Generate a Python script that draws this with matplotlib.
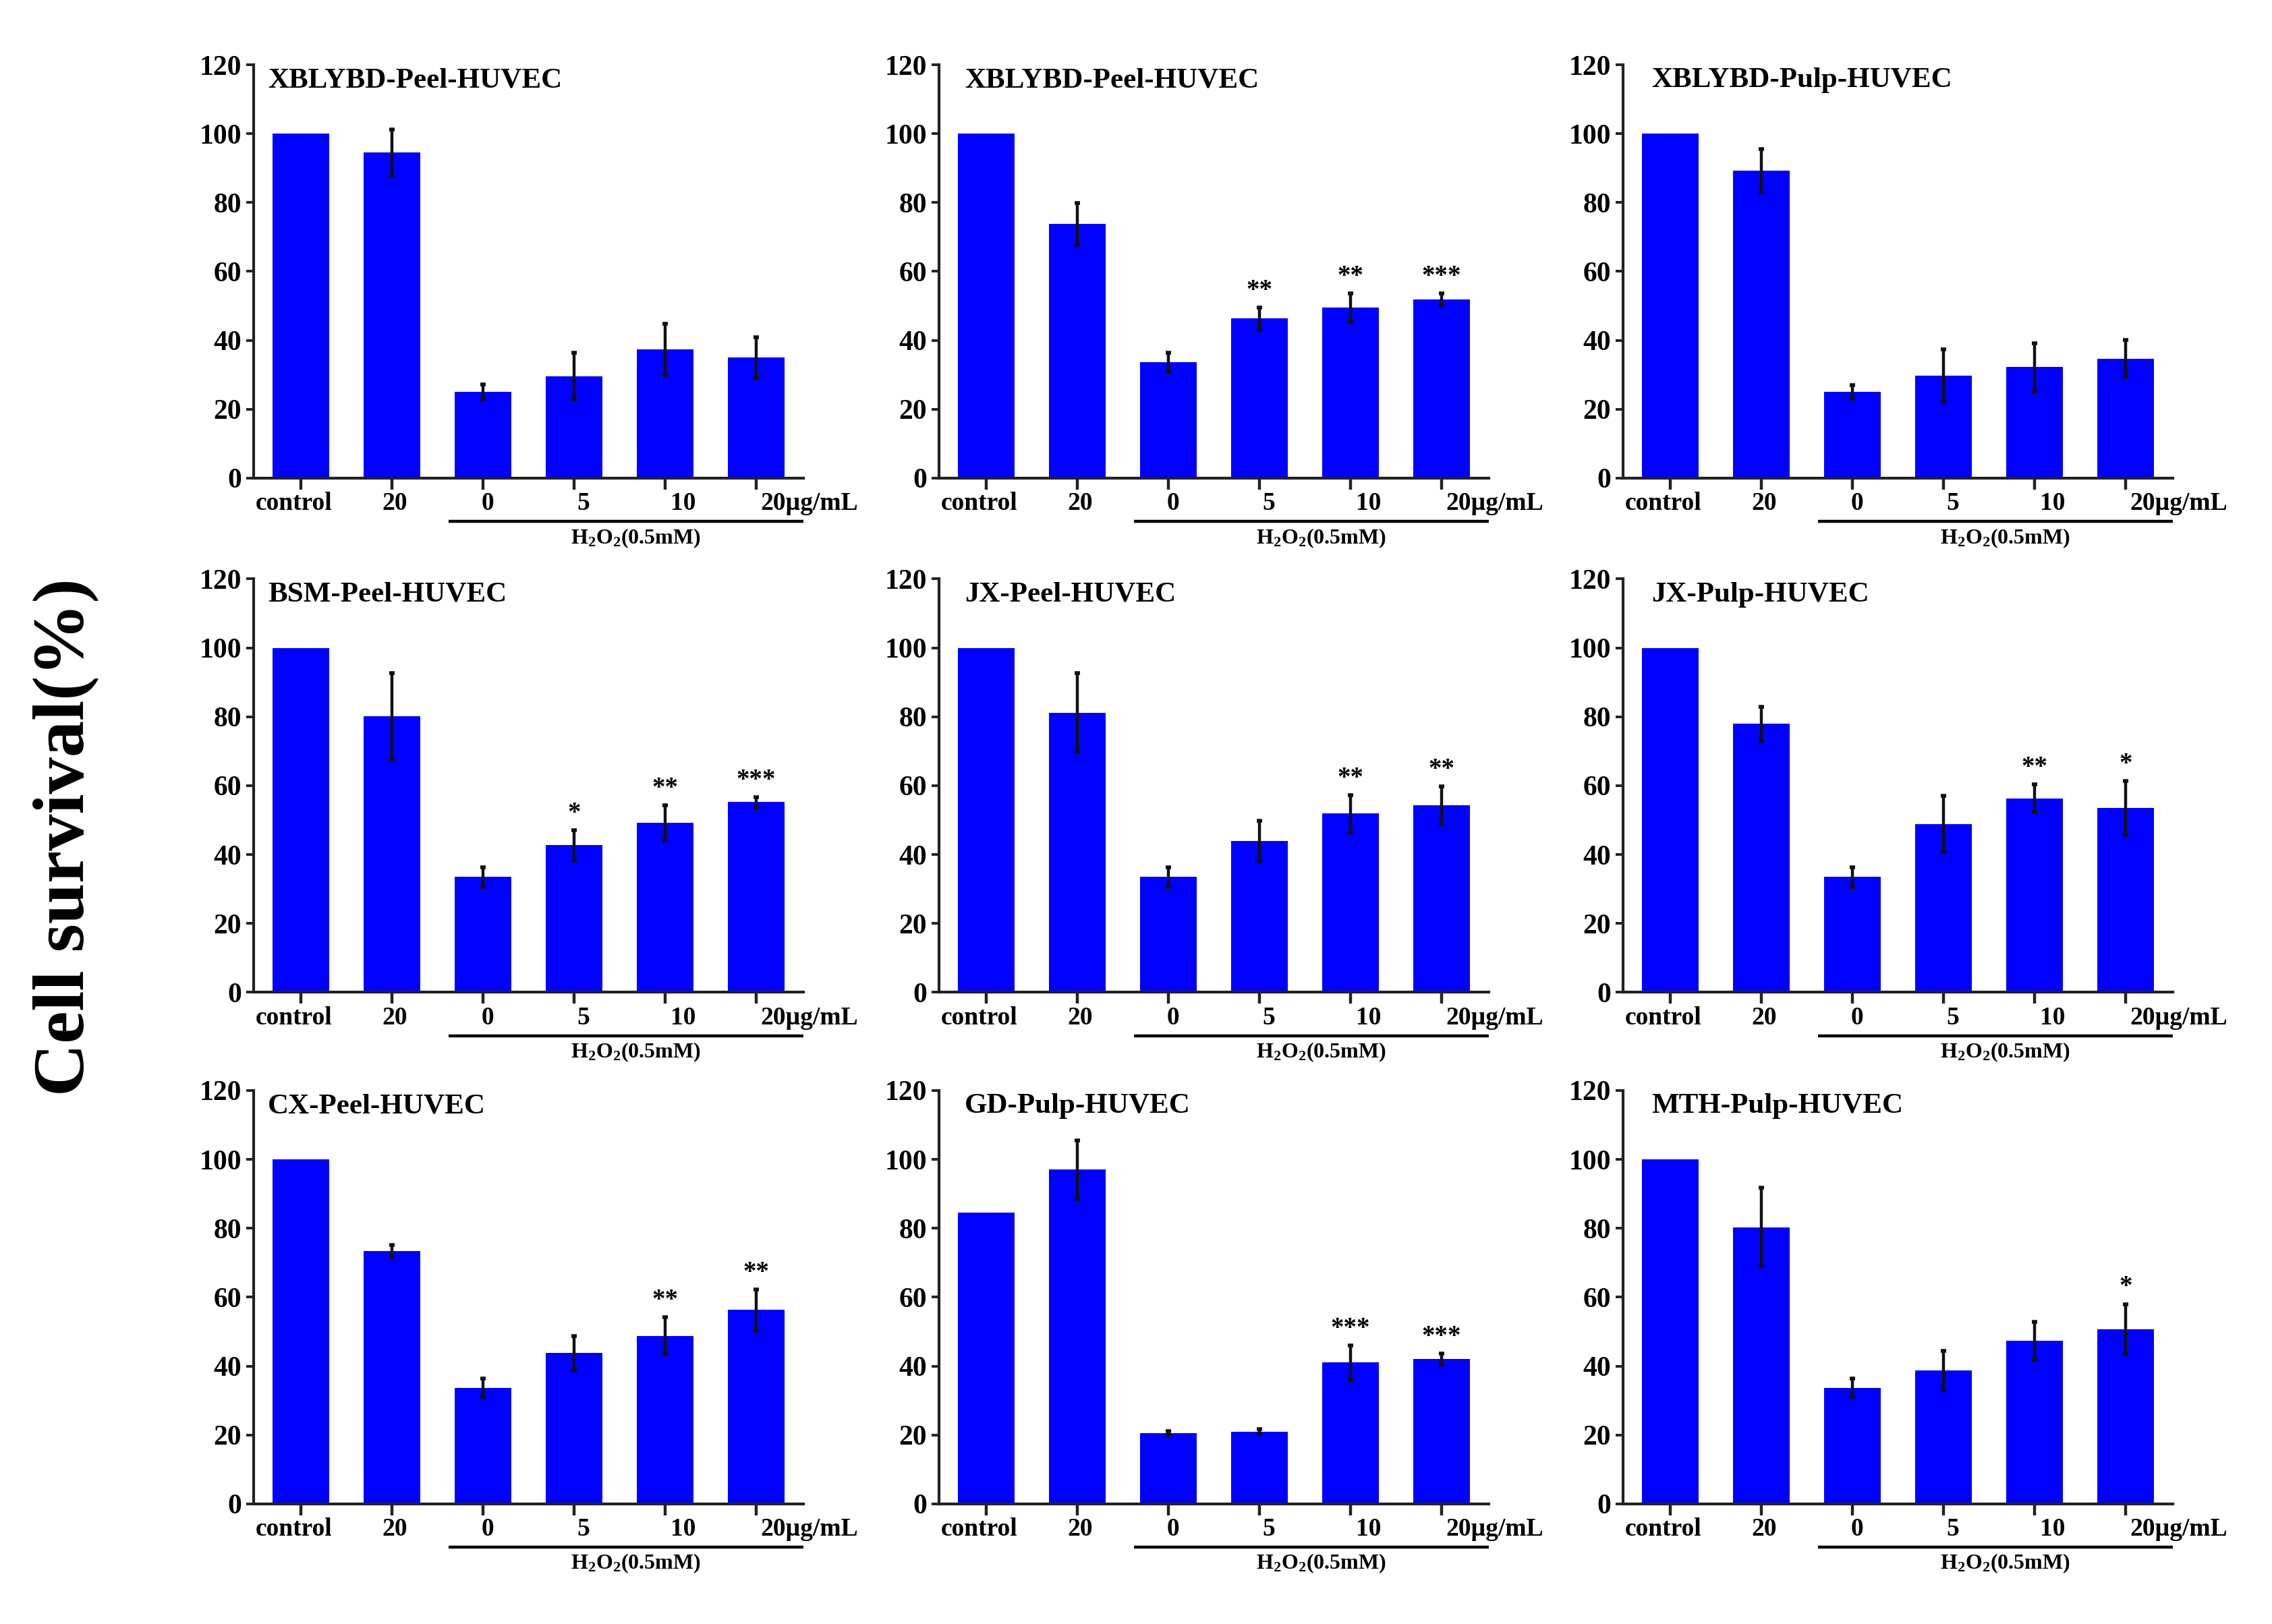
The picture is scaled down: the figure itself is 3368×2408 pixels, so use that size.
import matplotlib
matplotlib.use("Agg")
import matplotlib.pyplot as plt
import numpy as np

plt.rcParams['font.family'] = ['Liberation Serif', 'DejaVu Serif']
plt.rcParams['font.weight'] = 'bold'
plt.rcParams['mathtext.fontset'] = 'custom'
plt.rcParams['mathtext.rm'] = 'Liberation Serif:bold'
plt.rcParams['mathtext.it'] = 'Liberation Serif:bold'
plt.rcParams['mathtext.bf'] = 'Liberation Serif:bold'
plt.rcParams['mathtext.default'] = 'rm'

# ---------------- data ----------------
panel_titles = ["XBLYBD-Peel-HUVEC", "XBLYBD-Peel-HUVEC", "XBLYBD-Pulp-HUVEC",
                "BSM-Peel-HUVEC", "JX-Peel-HUVEC", "JX-Pulp-HUVEC",
                "CX-Peel-HUVEC", "GD-Pulp-HUVEC", "MTH-Pulp-HUVEC"]
categories = ["control", "20", "0", "5", "10", "20µg/mL"]
y_ticks = [0, 20, 40, 60, 80, 100, 120]
bracket_label = r"H$_2$O$_2$(0.5mM)"
y_label = "Cell survival(%)"

means = [
    [100, 94.5, 25.0, 29.6, 37.4, 35.1],
    [100, 73.8, 33.7, 46.3, 49.5, 51.9],
    [100, 89.3, 25.0, 29.8, 32.2, 34.7],
    [100, 80.2, 33.5, 42.7, 49.2, 55.2],
    [100, 81.2, 33.5, 43.9, 51.9, 54.3],
    [100, 77.9, 33.5, 48.9, 56.3, 53.5],
    [100, 73.4, 33.7, 43.9, 48.8, 56.3],
    [84.5, 97.0, 20.5, 21.0, 41.0, 42.0],
    [100, 80.3, 33.7, 38.8, 47.3, 50.7],
]
errors = [
    [0, 6.7, 2.2, 6.8, 7.5, 5.9],
    [0, 6.0, 2.7, 3.2, 4.1, 1.8],
    [0, 6.3, 2.0, 7.6, 6.9, 5.4],
    [0, 12.5, 2.8, 4.4, 5.1, 1.5],
    [0, 11.5, 2.8, 5.9, 5.4, 5.4],
    [0, 5.0, 2.8, 8.1, 4.0, 7.8],
    [0, 1.7, 2.6, 4.9, 5.4, 6.0],
    [0, 8.5, 0.6, 0.6, 5.0, 1.7],
    [0, 11.5, 2.7, 5.7, 5.5, 7.3],
]
stars = [
    ["", "", "", "", "", ""],
    ["", "", "", "**", "**", "***"],
    ["", "", "", "", "", ""],
    ["", "", "", "*", "**", "***"],
    ["", "", "", "", "**", "**"],
    ["", "", "", "", "**", "*"],
    ["", "", "", "", "**", "**"],
    ["", "", "", "", "***", "***"],
    ["", "", "", "", "", "*"],
]

# ---------------- layout ----------------
W, H = 3368, 2408
DPI = 200
fig = plt.figure(figsize=(W / DPI, H / DPI), dpi=DPI)
fig.patch.set_facecolor('white')

col_left = [0.1116, 0.4133, 0.7144]
row_bottom = [0.7056, 0.389, 0.074]
ax_w, ax_h = 0.242, 0.2545
title_dx = [0.026, 0.047, 0.052]
label_dx = [-0.08, 0.03, 0.05, 0.1, 0.2, 0.05]

BLUE = '#0000FF'
x = np.arange(len(categories))

for i in range(9):
    r, c = divmod(i, 3)
    ax = fig.add_axes([col_left[c], row_bottom[r], ax_w, ax_h])
    m = np.array(means[i], dtype=float)
    e = np.array(errors[i], dtype=float)
    ax.bar(x, m, width=0.62, color=BLUE, edgecolor='none', zorder=2)
    mask = e > 0
    ax.errorbar(x[mask], m[mask], yerr=e[mask], fmt='none', ecolor='#111111',
                elinewidth=1.6, capsize=1.6, capthick=2.0, zorder=3)
    for j, s in enumerate(stars[i]):
        if s:
            ax.text(x[j], m[j] + e[j] + 1.2, s, ha='center', va='bottom',
                    fontsize=14, fontweight='bold')

    ax.set_xlim(-0.52, 5.52)
    ax.set_ylim(0, 120)
    ax.set_yticks(y_ticks)
    ax.set_yticklabels([str(t) for t in y_ticks], fontsize=15, fontweight='bold')
    ax.set_xticks(x)
    ax.set_xticklabels([])
    for side in ['top', 'right']:
        ax.spines[side].set_visible(False)
    for side in ['left', 'bottom']:
        ax.spines[side].set_linewidth(1.5)
        ax.spines[side].set_color('#222222')
    ax.tick_params(axis='y', direction='out', length=4, width=1.4, pad=2.5, colors='#222222', labelcolor='black')
    ax.tick_params(axis='x', direction='out', length=6, width=1.6, colors='#222222')

    tr = ax.get_xaxis_transform()
    for j, lab in enumerate(categories):
        if j == len(categories) - 1:
            ax.text(x[j] + label_dx[j], -0.062, lab, transform=tr, ha='left', va='center',
                    fontsize=13.5, fontweight='bold', clip_on=False)
        else:
            ax.text(x[j] + label_dx[j], -0.062, lab, transform=tr, ha='center', va='center',
                    fontsize=13.5, fontweight='bold', clip_on=False)
    # bracket line under H2O2 group
    ax.plot([1.62, 5.52], [-0.105, -0.105], transform=tr, color='black', lw=1.6,
            clip_on=False, solid_capstyle='butt')
    ax.text(3.68, -0.145, bracket_label, transform=tr, ha='center', va='center',
            fontsize=11.5, fontweight='bold', clip_on=False)

    ax.text(title_dx[c], 0.962, panel_titles[i], transform=ax.transAxes, ha='left', va='center',
            fontsize=15.5, fontweight='bold')

fig.text(0.029, 0.4846, y_label, rotation=90, ha='center', va='center',
         fontsize=39, fontweight='bold')

fig.savefig("out.png", dpi=DPI, facecolor='white')
